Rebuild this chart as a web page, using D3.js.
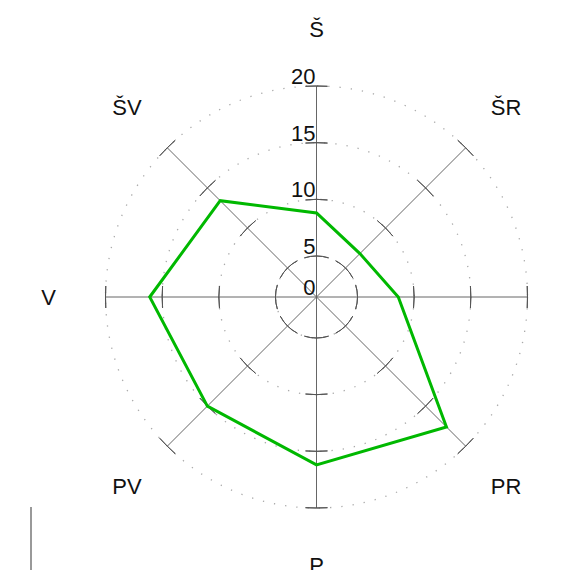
<!DOCTYPE html>
<html>
<head>
<meta charset="utf-8">
<script src="https://cdn.jsdelivr.net/npm/d3@7"></script>
<style>
  body { margin: 0; background: #fff; }
  svg { display: block; }
  text { font-family: "Liberation Sans", Arial, sans-serif; fill: #111; }
</style>
</head>
<body>
<div id="chart"></div>
<script>
// directions clockwise from north
const directions = ["Š", "ŠR", "R", "PR", "P", "PV", "V", "ŠV"];
const values = [8.8, 6.8, 8.6, 17.6, 16.2, 15.0, 16.1, 13.4];
const tickValues = [0, 5, 10, 15, 20];

const width = 571, height = 570;
const cx = 316.5, cy = 297;

const svg = d3.select("#chart").append("svg")
  .attr("width", width)
  .attr("height", height);

// radial scale does not start at zero in the original, clamp at center
const rScale = d3.scaleLinear().domain([0, 20]).range([-15.7, 211]);
const r = v => Math.max(0, rScale(v));

const angle = d3.scaleLinear().domain([0, directions.length]).range([0, 2 * Math.PI]);

const g = svg.append("g").attr("transform", `translate(${cx},${cy})`);

// dotted grid circles
g.selectAll("circle.grid")
  .data(tickValues.filter(t => r(t) > 0))
  .join("circle")
  .attr("class", "grid")
  .attr("r", d => r(d))
  .attr("fill", "none")
  .attr("stroke", "#aaa")
  .attr("stroke-width", 1.3)
  .attr("stroke-dasharray", "1.3 10");

// spokes
g.selectAll("line.spoke")
  .data(directions)
  .join("line")
  .attr("class", "spoke")
  .attr("x1", 0).attr("y1", 0)
  .attr("x2", (d, i) => r(20) * Math.sin(angle(i)))
  .attr("y2", (d, i) => -r(20) * Math.cos(angle(i)))
  .attr("stroke", "#666")
  .attr("stroke-width", 1);

// tick arcs on each spoke
const tickArc = d3.arc();
directions.forEach((d, i) => {
  tickValues.filter(t => r(t) > 0).forEach(t => {
    const rad = r(t);
    const half = rad < 60 ? 0.3 : 11 / rad;
    g.append("path")
      .attr("d", tickArc({
        innerRadius: rad, outerRadius: rad,
        startAngle: angle(i) - half, endAngle: angle(i) + half
      }))
      .attr("fill", "none")
      .attr("stroke", "#555")
      .attr("stroke-width", 1);
  });
});

// tick labels along north spoke
g.selectAll("text.tick")
  .data(tickValues)
  .join("text")
  .attr("class", "tick")
  .attr("x", -1)
  .attr("y", d => -r(d) - 2)
  .attr("text-anchor", "end")
  .attr("font-size", 22)
  .text(d => d);

// data polygon
const line = d3.lineRadial()
  .angle((d, i) => angle(i))
  .radius(d => r(d))
  .curve(d3.curveLinearClosed);

g.append("path")
  .datum(values)
  .attr("d", line)
  .attr("fill", "none")
  .attr("stroke", "#00b800")
  .attr("stroke-width", 3)
  .attr("stroke-linejoin", "miter");

// direction labels
const labelR = 268;
g.selectAll("text.dir")
  .data(directions)
  .join("text")
  .attr("class", "dir")
  .attr("x", (d, i) => labelR * Math.sin(angle(i)))
  .attr("y", (d, i) => -labelR * Math.cos(angle(i)))
  .attr("dy", "0.36em")
  .attr("text-anchor", "middle")
  .attr("font-size", 22)
  .text(d => d);

// stray vertical bar at the bottom left of the original
svg.append("line")
  .attr("x1", 31).attr("x2", 31)
  .attr("y1", 507).attr("y2", 570)
  .attr("stroke", "#999")
  .attr("stroke-width", 2);
</script>
</body>
</html>
